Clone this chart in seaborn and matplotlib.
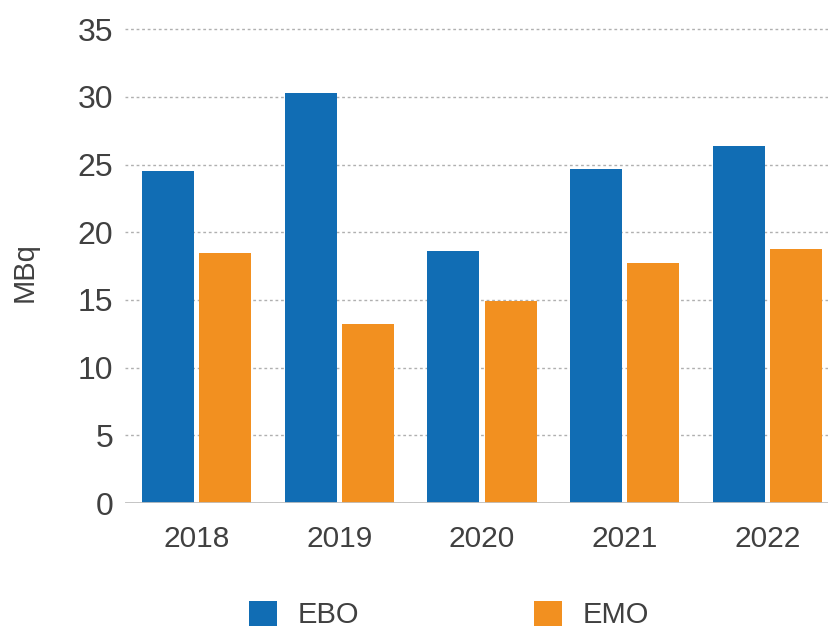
import matplotlib
matplotlib.use("Agg")
import matplotlib.pyplot as plt
import seaborn as sns
import pandas as pd

years = ["2018", "2019", "2020", "2021", "2022"]
ebo = [24.5, 30.3, 18.6, 24.7, 26.4]
emo = [18.5, 13.2, 14.9, 17.7, 18.8]
series_names = ["EBO", "EMO"]
y_ticks = [0, 5, 10, 15, 20, 25, 30, 35]
y_label = "MBq"

colors = {"EBO": "#116DB4", "EMO": "#F29020"}
text_color = "#404040"

df = pd.DataFrame({
    "year": years * 2,
    "value": ebo + emo,
    "series": ["EBO"] * len(years) + ["EMO"] * len(years),
})

sns.set_theme(style="white")
plt.rcParams["font.family"] = ["Liberation Sans", "DejaVu Sans"]

fig = plt.figure(figsize=(8.29, 6.28), dpi=100)
ax = fig.add_axes([0.1508, 0.199, 0.8613, 0.776])

sns.barplot(
    data=df, x="year", y="value", hue="series", hue_order=series_names,
    order=years, palette=colors, saturation=1, width=0.8, gap=0.09,
    ax=ax, zorder=3, errorbar=None, linewidth=0, edgecolor="none",
)

ax.set_xlim(-0.5, 4.5)
ax.set_ylim(0, 36)
ax.set_yticks(y_ticks)
ax.set_yticklabels([str(t) for t in y_ticks])
ax.set_xlabel("")
ax.set_ylabel("")

ax.yaxis.grid(True, color="#B0B0B0", linestyle=(0, (2, 2)), linewidth=1.0, zorder=0)
ax.xaxis.grid(False)
ax.set_axisbelow(True)
for side in ["top", "right", "left", "bottom"]:
    ax.spines[side].set_visible(False)
ax.axhline(0, color="#C0C0C0", linewidth=2.0, zorder=4)

ax.tick_params(axis="y", length=0, pad=8.5, labelsize=23, labelcolor=text_color)
ax.tick_params(axis="x", length=0, pad=16, labelsize=21.5, labelcolor=text_color)

fig.text(25 / 829, 1 - 272 / 628, y_label, rotation=90, ha="center", va="center",
         fontsize=21, color=text_color)

ax.legend(
    loc="center", bbox_to_anchor=(0.5416, 0.0207), bbox_transform=fig.transFigure,
    ncol=2, frameon=False, fontsize=21, handlelength=0.95, handleheight=0.95,
    handletextpad=0.7, columnspacing=6.0, borderpad=0, labelcolor=text_color,
)

fig.savefig("out.png", dpi=100)
